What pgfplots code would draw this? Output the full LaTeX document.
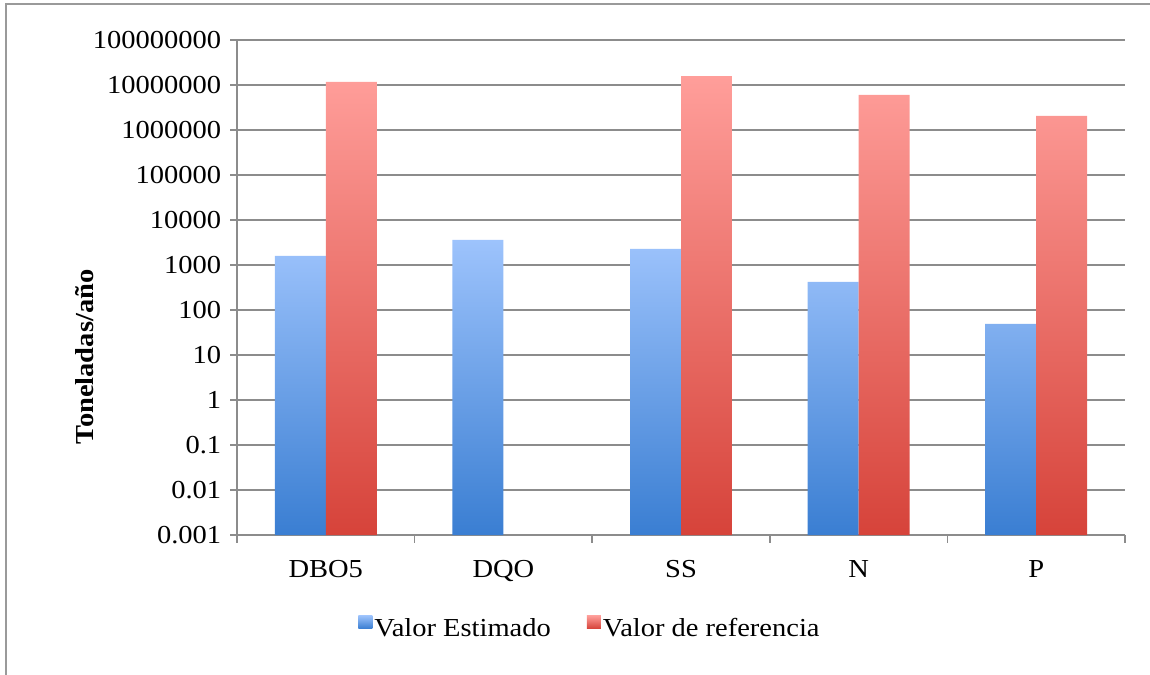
\documentclass[border=0pt]{standalone}
\usepackage{fontspec}
\setmainfont{Liberation Serif}[FakeStretch=1.1]
\usepackage{pgfplots}
\pgfplotsset{compat=1.18}
\definecolor{gridgray}{HTML}{8C8C8C}
\definecolor{framegray}{HTML}{9A9A9A}
\definecolor{blueT}{HTML}{9DC3FC}
\definecolor{blueM}{HTML}{8EB6F2}
\definecolor{blueB}{HTML}{3A7ED2}
\definecolor{redT}{HTML}{FF9E9A}
\definecolor{redM}{HTML}{F5908A}
\definecolor{redB}{HTML}{D6433A}
\begin{document}
\fontsize{26}{31}\selectfont
\begin{tikzpicture}
\useasboundingbox (0bp,0bp) rectangle (1150bp,675bp);
\draw[framegray, line width=2bp] (6bp,0bp) -- (6bp,671bp) -- (1150bp,671bp);
\begin{axis}[
  at={(237bp,140bp)}, anchor=south west,
  scale only axis, width=888bp, height=495bp,
  ymode=log, log origin y=infty,
  ymin=1e-3, ymax=1e8,
  xmin=-0.5, xmax=4.5,
  ybar=0pt, bar width=0.287,
  axis lines=left,
  axis line style={-, draw=gridgray, line width=1.5bp},
  ymajorgrids, grid style={draw=gridgray, line width=1.5bp},
  yminorticks=false,
  ytick={1e-3,1e-2,1e-1,1,10,100,1000,1e4,1e5,1e6,1e7,1e8},
  yticklabels={0.001,0.01,0.1,1,10,100,1000,10000,100000,1000000,10000000,100000000},
  xtick={0,1,2,3,4}, xticklabels={DBO5,DQO,SS,N,P},
  minor xtick={-0.5,0.5,1.5,2.5,3.5,4.5},
  tick align=outside, major tick length=7bp, minor tick length=8bp,
  every major x tick/.append style={draw=none},
  tick style={draw=gridgray, line width=1.5bp},
  xticklabel style={yshift=-10bp},
  ylabel={\bfseries Toneladas/año},
  every axis y label/.style={at={(rel axis cs:0,0.3596)}, xshift=-152bp, rotate=90, anchor=center},
  legend style={at={(0.3975,-0.19)}, anchor=center, draw=none, fill=none,
    legend columns=2, /tikz/every even column/.append style={column sep=34bp}},
  legend cell align=left,
  legend image code/.code={\path[#1,draw=none] (-4bp,1bp) rectangle (10bp,14bp);},
]
\addplot[draw=none, top color=blueT, middle color=blueM, bottom color=blueB] coordinates {(0,1600) (1,3600) (2,2270) (3,420) (4,49)};
\addlegendentry{Valor Estimado}
\addplot[draw=none, top color=redT, middle color=redM, bottom color=redB] coordinates {(0,1.17e7) (2,1.58e7) (3,6.0e6) (4,2.05e6)};
\addlegendentry{Valor de referencia}
\end{axis}
\end{tikzpicture}
\end{document}
